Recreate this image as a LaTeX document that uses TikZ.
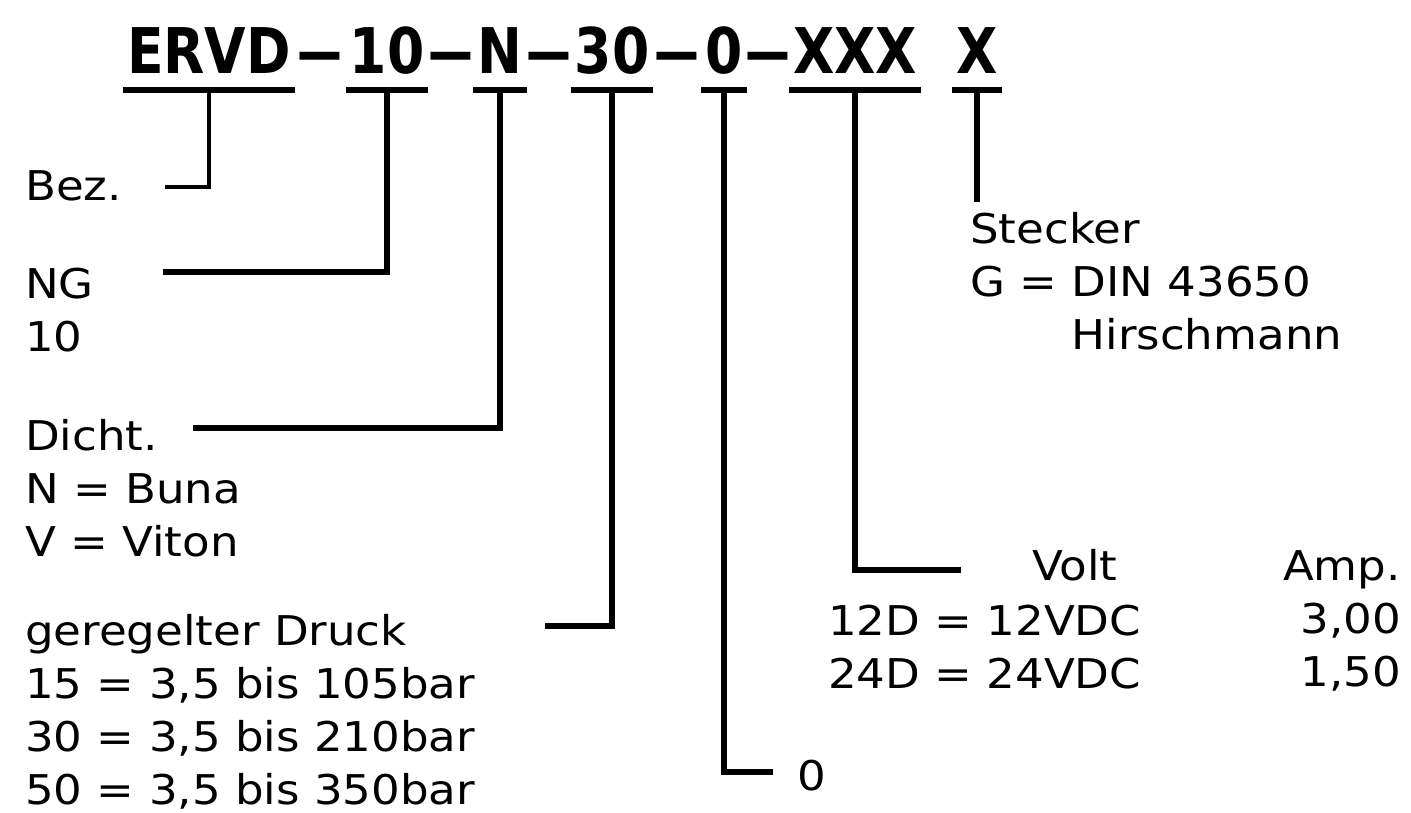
\documentclass[tikz,border=0pt]{standalone}
\usepackage{fontspec}
\usepackage{graphicx}
\setmainfont[FakeStretch=1.1]{DejaVu Sans}
\newfontfamily\codefamily[FakeStretch=0.85]{DejaVu Sans}
\usetikzlibrary{positioning, calc}

\newcommand{\codefont}{\codefamily\bfseries\fontsize{63}{70}\selectfont}
\newcommand{\legendfont}{\fontsize{41}{53}\selectfont}
\newcommand{\codedash}{\scalebox{1.9}[1]{–}}

\tikzset{
  code/.style={inner sep=0pt, text height=46pt, text depth=0pt, font=\codefont},
  legend/.style={inner sep=0pt, anchor=north west, align=left, font=\legendfont},
  uline/.style={line width=6.5pt},
  lead/.style={line width=6pt, line join=miter}
}

\begin{document}
\begin{tikzpicture}[x=1pt,y=-1pt]
  \useasboundingbox[fill=white] (0,0) rectangle (1411,812);

  % the type code
  \node[code, anchor=base] (ervd) at (209,73) {ERVD};
  \node[code, anchor=base] (size) at (387,73) {10};
  \node[code, anchor=base] (seal) at (500,73) {N};
  \node[code, anchor=base] (press) at (612,73) {30};
  \node[code, anchor=base] (opt) at (724,73) {0};
  \node[code, anchor=base] (volt) at (855,73) {XXX};
  \node[code, anchor=base] (plug) at (977,73) {X};
  \node[code] (d1) at ($(ervd.east)!.5!(size.west)$) {\codedash};
  \node[code] (d2) at ($(size.east)!.5!(seal.west)$) {\codedash};
  \node[code] (d3) at ($(seal.east)!.5!(press.west)$) {\codedash};
  \node[code] (d4) at ($(press.east)!.5!(opt.west)$) {\codedash};
  \node[code] (d5) at ($(opt.east)!.5!(volt.west)$) {\codedash};

  \foreach \seg in {ervd,size,seal,press,opt,volt,plug}
    \draw[uline] ([shift={(-4pt,-17pt)}]\seg.south west) -- ([shift={(4pt,-17pt)}]\seg.south east);

  % legends
  \node[legend] (bez) at (25,170) {Bez.};
  \node[legend] (ng) at (25,268) {NG\\10};
  \node[legend] (dicht) at (25,419) {Dicht.\\N = Buna\\V = Viton};
  \node[legend] (druck) at (25,614) {geregelter Druck\\15 = 3,5 bis 105bar\\30 = 3,5 bis 210bar\\50 = 3,5 bis 350bar};
  \node[legend, anchor=base west] (nullopt) at (797,790) {0};
  \node[legend, anchor=base west] (volthead) at (1032,580) {Volt};
  \node[legend] (voltrows) at (828,605) {12D = 12VDC\\24D = 24VDC};
  \node[legend, anchor=north east, align=right] (amp) at (1401,550) {Amp.\\3,00\\1,50};
  \node[legend] (stecker) at (970,212) {Stecker\\G = DIN 43650\\\phantom{G = }Hirschmann};

  % lead ends
  \coordinate (bezTip) at (165,187);
  \coordinate (ngTip) at (163,272);
  \coordinate (dichtTip) at (193,428);
  \coordinate (druckTip) at (545,626);
  \coordinate (optTip) at (773,772);
  \coordinate (voltTip) at (961,570);
  \coordinate (plugTip) at (976,202);

  \draw[lead, line width=4pt] ([yshift=-17pt]ervd.south) |- (bezTip);
  \draw[lead] ([yshift=-17pt]size.south) |- (ngTip);
  \draw[lead] ([yshift=-17pt]seal.south) |- (dichtTip);
  \draw[lead] ([yshift=-17pt]press.south) |- (druckTip);
  \draw[lead] ([yshift=-17pt]opt.south) |- (optTip);
  \draw[lead] ([yshift=-17pt]volt.south) |- (voltTip);
  \draw[lead] ([yshift=-17pt]plug.south) -- (plug.south |- plugTip);
\end{tikzpicture}
\end{document}
